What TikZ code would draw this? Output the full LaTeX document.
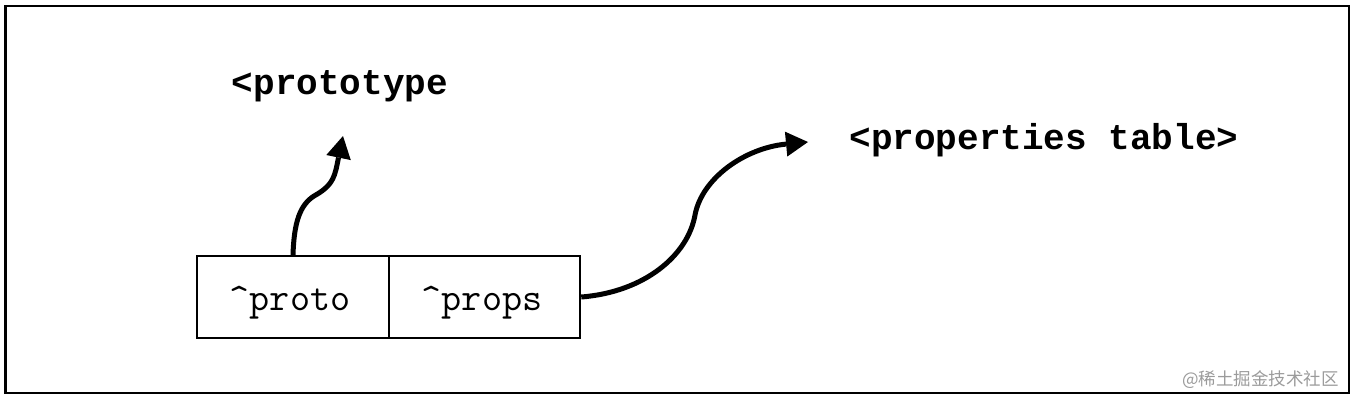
\documentclass[tikz,border=0pt]{standalone}
\usepackage{fontspec}
\usetikzlibrary{arrows.meta}
\newfontfamily\courfont{Liberation Mono}
\newfontfamily\cjkfont{Noto Sans CJK SC}
\definecolor{wmgray}{RGB}{155,155,155}
\begin{document}
\begin{tikzpicture}[x=1pt,y=-1pt,
  cell/.style={draw,line width=2pt,minimum width=191.5pt,minimum height=82pt,inner sep=0pt},
  celltext/.style={anchor=base,inner sep=0pt,font=\ttfamily\fontsize{39}{44}\selectfont},
  lbl/.style={anchor=base,inner sep=0pt,font=\courfont\bfseries\fontsize{36}{42}\selectfont},
  arr/.style={line width=5pt,-{Triangle[length=22pt,width=25pt,line width=0pt]}},
  frame/.style={draw,line width=2.2pt}]
\useasboundingbox (0,0) rectangle (1354,402);
\draw[frame] (5.5,6) rectangle (1349,393);
\node[cell] (proto) at (293,297) {};
\node[cell] (props) at (484.5,297) {};
\node[celltext] (protot) at (290,310) {\string^proto};
\node[celltext] (propst) at (482,310) {\string^props};
\node[lbl] (ptype) at (340,94) {<prototype};
\node[lbl] (ptable) at (1044,149) {<properties table>};
\node[anchor=base east,inner sep=0pt,text=wmgray,font=\cjkfont\fontsize{17.5}{20}\selectfont] (wm) at (1339,385) {@稀土掘金技术社区};
\coordinate (tipA) at (343,136);
\coordinate (tipB) at (808,142);
\draw[arr] (proto.north) .. controls (294,222) and (300,205) .. (314,196)
  .. controls (330,187) and (334,180) .. (337,165) -- (tipA);
\draw[arr] (props.east) .. controls (645,292) and (688,255) .. (695,215)
  .. controls (702,178) and (745,148) .. (tipB);
\end{tikzpicture}
\end{document}
